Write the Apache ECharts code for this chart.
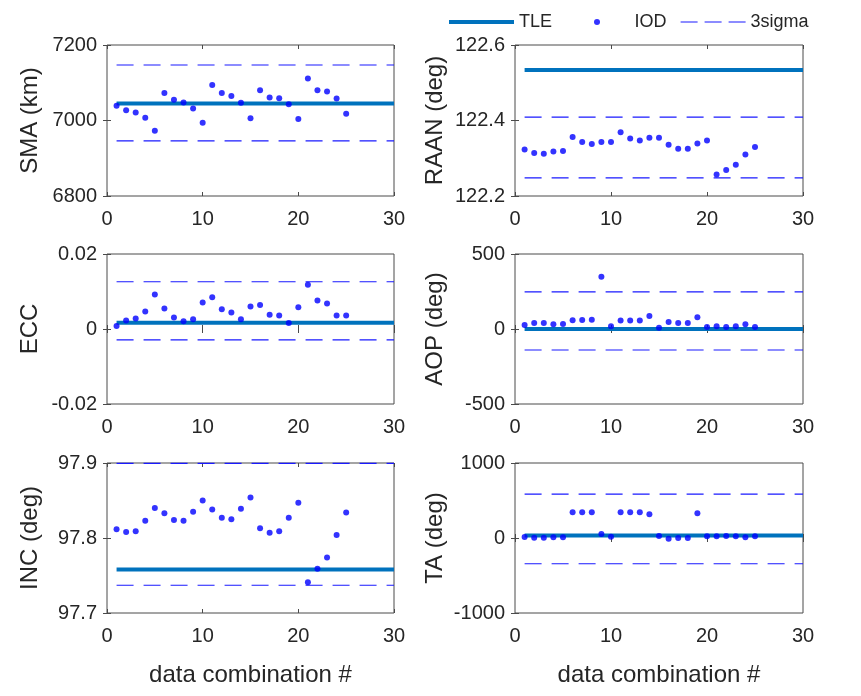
<!DOCTYPE html>
<html>
<head>
<meta charset="utf-8">
<script src="https://cdn.jsdelivr.net/npm/echarts@6/dist/echarts.min.js"></script>
<style>html,body{margin:0;padding:0;background:#fff;}#c{width:861px;height:696px;}</style>
</head>
<body>
<div id="c"></div>
<script>
// ---- data ----
const idx = [1,2,3,4,5,6,7,8,9,10,11,12,13,14,15,16,17,18,19,20,21,22,23,24,25];
const xTicks = [0, 10, 20, 30];

const smaIOD = [7039,7027,7021,7007,6973,7073,7055,7048,7032,6994,7094,7073,7065,7047,7006,7080,7061,7059,7043,7004,7111,7080,7077,7058,7018];
const smaTLE = 7045;
const smaSigma = [6946, 7147];
const smaTicks = [6800, 7000, 7200];

const raanIOD = [122.323,122.314,122.312,122.318,122.319,122.356,122.343,122.338,122.343,122.343,122.369,122.352,122.347,122.354,122.354,122.336,122.325,122.325,122.339,122.347,122.257,122.269,122.283,122.310,122.330];
const raanTLE = 122.534;
const raanSigma = [122.248, 122.409];
const raanTicks = [122.2, 122.4, 122.6];

const eccIOD = [0.0008,0.0023,0.0028,0.0047,0.0092,0.0055,0.0031,0.0021,0.0026,0.0071,0.0085,0.0053,0.0044,0.0026,0.0060,0.0064,0.0038,0.0036,0.0016,0.0058,0.0118,0.0076,0.0068,0.0036,0.0036];
const eccTLE = 0.0017;
const eccSigma = [-0.0029, 0.0126];
const eccTicks = [-0.02, 0, 0.02];

const aopIOD = [27,40,40,31,33,58,60,62,349,18,56,56,56,87,9,47,40,40,78,13,18,13,18,31,13];
const aopTLE = 0;
const aopSigma = [-140, 247];
const aopTicks = [-500, 0, 500];

const incIOD = [97.8116,97.808,97.809,97.823,97.840,97.833,97.824,97.823,97.835,97.850,97.838,97.827,97.825,97.839,97.854,97.813,97.807,97.809,97.827,97.847,97.741,97.759,97.774,97.804,97.834];
const incTLE = 97.758;
const incSigma = [97.737, 97.8996];
const incTicks = [97.7, 97.8, 97.9];

const taIOD = [13,4,4,9,9,344,344,344,54,18,344,344,344,317,27,-9,0,0,331,22,22,27,22,9,22];
const taTLE = 35;
const taSigma = [-343, 585];
const taTicks = [-1000, 0, 1000];

const yNames = ['SMA (km)', 'RAAN (deg)', 'ECC', 'AOP (deg)', 'INC (deg)', 'TA (deg)'];
const xName = 'data combination #';
const legendNames = ['TLE', 'IOD', '3sigma'];

// ---- layout ----
const panels = [
  {iod: smaIOD,  tle: smaTLE,  sig: smaSigma,  ticks: smaTicks,  dec: 0},
  {iod: raanIOD, tle: raanTLE, sig: raanSigma, ticks: raanTicks, dec: 1},
  {iod: eccIOD,  tle: eccTLE,  sig: eccSigma,  ticks: eccTicks,  dec: 2},
  {iod: aopIOD,  tle: aopTLE,  sig: aopSigma,  ticks: aopTicks,  dec: 0},
  {iod: incIOD,  tle: incTLE,  sig: incSigma,  ticks: incTicks,  dec: 1},
  {iod: taIOD,   tle: taTLE,   sig: taSigma,   ticks: taTicks,   dec: 0}
];
const colLeft = [107, 515], colWidth = [287, 288];
const rowTop = [45, 254, 463], rowHeight = [151, 150, 150];
const FONT = 'Liberation Sans, Arial, Helvetica, sans-serif';
const TXT = '#262626';
const TLE_COLOR = '#0072BD', SIG_COLOR = '#1a1aff', IOD_COLOR = '#0000FF';

const grid = [], xAxis = [], yAxis = [], series = [];
panels.forEach((p, i) => {
  const col = i % 2, row = Math.floor(i / 2);
  grid.push({left: colLeft[col], top: rowTop[row], width: colWidth[col], height: rowHeight[row],
    show: true, borderColor: '#4a4a4a', borderWidth: 1, backgroundColor: '#fff'});
  const xmin = xTicks[0], xmax = xTicks[xTicks.length - 1], xint = xTicks[1] - xTicks[0];
  const ymin = p.ticks[0], ymax = p.ticks[p.ticks.length - 1], yint = p.ticks[1] - p.ticks[0];
  const dec = p.dec;
  xAxis.push({type: 'value', gridIndex: i, min: xmin, max: xmax, interval: xint, position: 'bottom',
    axisLine: {show: false}, splitLine: {show: false},
    axisTick: {inside: true, length: 4, lineStyle: {color: '#4a4a4a'}},
    axisLabel: {fontSize: 20, color: TXT, fontFamily: FONT, margin: 13},
    name: row === 2 ? xName : '', nameLocation: 'middle', nameGap: 50,
    nameTextStyle: {fontSize: 24, color: TXT, fontFamily: FONT}});
  xAxis.push({type: 'value', gridIndex: i, min: xmin, max: xmax, interval: xint, position: 'top',
    axisLine: {show: false}, splitLine: {show: false}, axisLabel: {show: false},
    axisTick: {inside: true, length: 4, lineStyle: {color: '#4a4a4a'}}});
  yAxis.push({type: 'value', gridIndex: i, min: ymin, max: ymax, interval: yint, position: 'left',
    axisLine: {show: false}, splitLine: {show: false},
    axisTick: {inside: true, length: 4, lineStyle: {color: '#4a4a4a'}},
    axisLabel: {fontSize: 20, color: TXT, fontFamily: FONT, margin: 10,
      formatter: v => (Math.abs(v) < 1e-12 ? '0' : v.toFixed(dec))},
    name: yNames[i], nameLocation: 'middle', nameGap: col === 0 ? 65 : 68,
    nameTextStyle: {fontSize: 24, color: TXT, fontFamily: FONT}});
  yAxis.push({type: 'value', gridIndex: i, min: ymin, max: ymax, interval: yint, position: 'right',
    axisLine: {show: false}, splitLine: {show: false}, axisLabel: {show: false},
    axisTick: {inside: true, length: 4, lineStyle: {color: '#4a4a4a'}}});
  const xa = 2 * i, ya = 2 * i;
  const xEnd = [idx[0], xmax];
  series.push({name: 'TLE', type: 'line', xAxisIndex: xa, yAxisIndex: ya, symbol: 'none', clip: false,
    data: xEnd.map(x => [x, p.tle]), lineStyle: {color: TLE_COLOR, width: 4}, itemStyle: {color: TLE_COLOR}, z: 2, silent: true});
  p.sig.forEach(s => {
    series.push({name: '3sigma', type: 'line', xAxisIndex: xa, yAxisIndex: ya, symbol: 'none', clip: false,
      data: xEnd.map(x => [x, s]), lineStyle: {color: SIG_COLOR, width: 1.2, type: [17, 10]},
      itemStyle: {color: SIG_COLOR}, z: 2, silent: true});
  });
  series.push({name: 'IOD', type: 'scatter', xAxisIndex: xa, yAxisIndex: ya, symbol: 'circle', symbolSize: 6,
    data: idx.map((x, k) => [x, p.iod[k]]), itemStyle: {color: IOD_COLOR}, z: 3, silent: true});
});

const legendText = {fontSize: 18, color: TXT, fontFamily: FONT};
const option = {
  animation: false,
  backgroundColor: '#fff',
  legend: [
    {data: [legendNames[0]], left: 447, top: 13, padding: 0, itemWidth: 65, itemHeight: 8, selectedMode: false,
      itemStyle: {opacity: 0}, lineStyle: {width: 4, color: TLE_COLOR}, textStyle: legendText},
    {data: [legendNames[1]], left: 594, top: 13, padding: 0, itemWidth: 65, itemHeight: 6, icon: 'circle', selectedMode: false,
      textStyle: legendText},
    {data: [legendNames[2]], left: 680, top: 13, padding: 0, itemWidth: 65, itemHeight: 8, selectedMode: false,
      itemStyle: {opacity: 0}, lineStyle: {width: 1.2, color: SIG_COLOR, type: [17, 7]}, textStyle: legendText}
  ],
  grid, xAxis, yAxis, series
};
const chart = echarts.init(document.getElementById('c'), null, {renderer: 'canvas'});
chart.setOption(option);
</script>
</body>
</html>
